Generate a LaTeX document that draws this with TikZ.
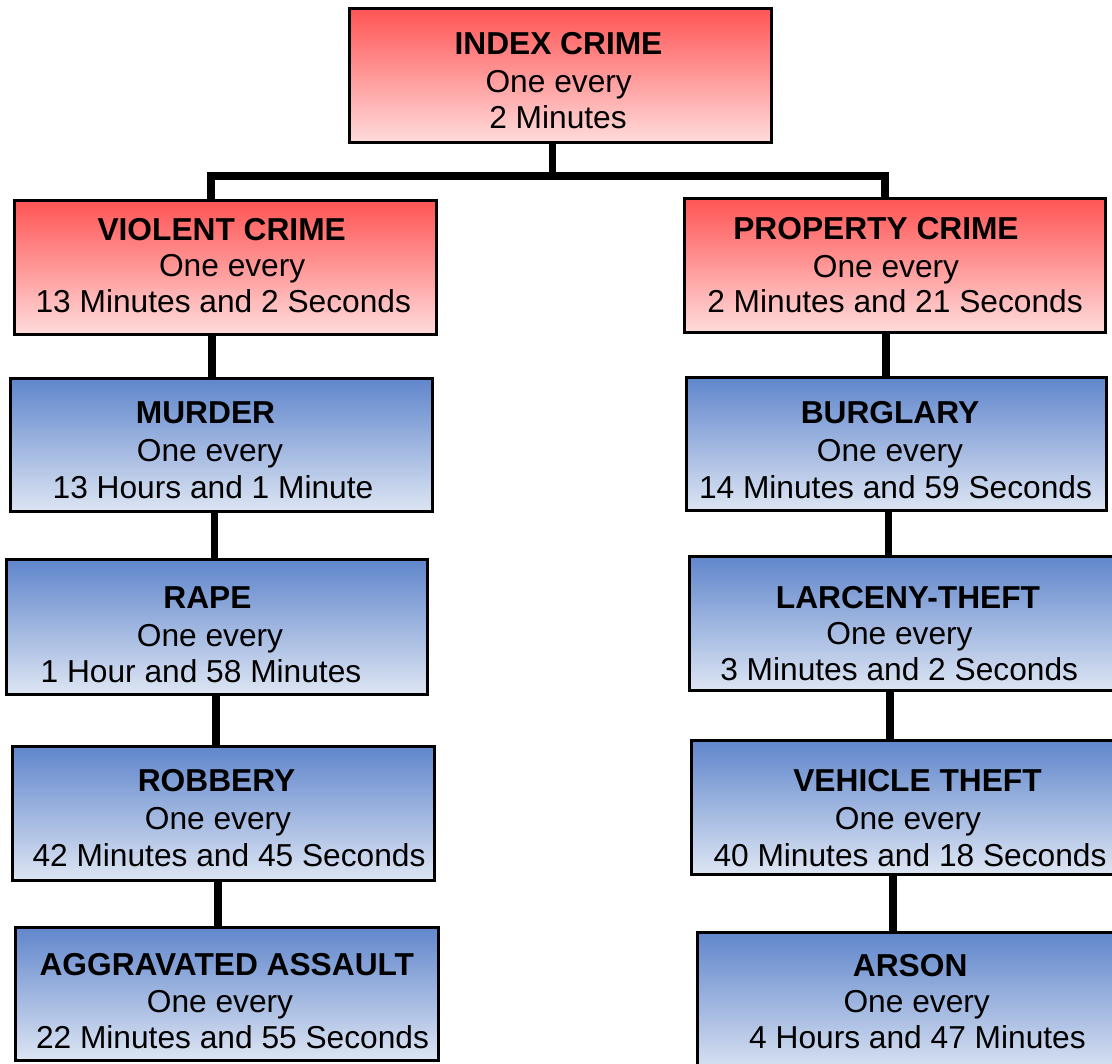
\documentclass[tikz,border=0pt]{standalone}
\usepackage{fontspec}
\setmainfont{Liberation Sans}
\definecolor{redtop}{RGB}{255,84,84}
\definecolor{redbot}{RGB}{255,220,220}
\definecolor{bluetop}{RGB}{96,134,204}
\definecolor{bluebot}{RGB}{221,229,243}
\tikzset{
  crimebox/.style={draw=black, line width=3pt, rectangle, inner sep=0pt},
  redbox/.style={crimebox, top color=redtop, bottom color=redbot},
  bluebox/.style={crimebox, top color=bluetop, bottom color=bluebot},
  txt/.style={anchor=base, inner sep=0pt, font=\fontsize{31.7}{37}\selectfont},
  ttl/.style={txt, font=\fontsize{31.7}{37}\selectfont\bfseries},
  conn/.style={draw=black, line width=7.5pt}
}
\begin{document}
\begin{tikzpicture}[x=1pt,y=-1pt]
\clip (0,0) rectangle (1112,1064);
\fill[white] (0,0) rectangle (1112,1064);
% boxes
\node[redbox, minimum width=422, minimum height=134] (idx) at (560.5,75.5) {};
\node[redbox, minimum width=422, minimum height=134.5] (vio) at (225,267.75) {};
\node[redbox, minimum width=421, minimum height=134] (pro) at (895,265.5) {};
\node[bluebox, minimum width=422, minimum height=133] (mur) at (221,445.5) {};
\node[bluebox, minimum width=420, minimum height=133] (bur) at (896.5,444) {};
\node[bluebox, minimum width=421, minimum height=134] (rap) at (217,627) {};
\node[bluebox, minimum width=435.2, minimum height=134.3] (lar) at (907.4,623.65) {};
\node[bluebox, minimum width=421.5, minimum height=134] (rob) at (223.25,813.5) {};
\node[bluebox, minimum width=433.5, minimum height=133.5] (veh) at (908.25,807.25) {};
\node[bluebox, minimum width=423, minimum height=133.5] (agg) at (227,993.75) {};
\node[bluebox, minimum width=427.5, minimum height=142.5] (ars) at (911.25,1003.75) {};
% connectors
\coordinate (jM) at (552.7,176);
\coordinate (jL) at (211,176);
\coordinate (jR) at (885,176);
\draw[conn] (idx.south -| jM) -- (jM);
\draw[conn] (vio.north -| jL) -- (jL) -- (jR) -- (pro.north -| jR);
\draw[conn] ([xshift=-13]vio.south) -- ([xshift=-9]mur.north);
\draw[conn] ([xshift=-6.5]mur.south) -- ([xshift=-2.5]rap.north);
\draw[conn] ([xshift=-1]rap.south) -- ([xshift=-7.25]rob.north);
\draw[conn] ([xshift=-5.25]rob.south) -- ([xshift=-9]agg.north);
\draw[conn] ([xshift=-9]pro.south) -- ([xshift=-10.5]bur.north);
\draw[conn] ([xshift=-7.8]bur.south) -- ([xshift=-18.7]lar.north);
\draw[conn] ([xshift=-17.4]lar.south) -- ([xshift=-18.25]veh.north);
\draw[conn] ([xshift=-15.25]veh.south) -- ([xshift=-18.25]ars.north);
% texts
\node[ttl] (idx1) at (558.5,55) {INDEX CRIME};
\node[txt] (idx2) at (558.7,93) {One every};
\node[txt] (idx3) at (558,129) {2 Minutes};
\node[ttl] (vio1) at (221.7,241) {VIOLENT CRIME};
\node[txt] (vio2) at (232.2,277) {One every};
\node[txt] (vio3) at (223.3,313) {13 Minutes and 2 Seconds};
\node[ttl] (pro1) at (876,240) {PROPERTY CRIME};
\node[txt] (pro2) at (886,278) {One every};
\node[txt] (pro3) at (895,313) {2 Minutes and 21 Seconds};
\node[ttl] (mur1) at (205.5,424) {MURDER};
\node[txt] (mur2) at (210,462) {One every};
\node[txt] (mur3) at (213,499) {13 Hours and 1 Minute};
\node[ttl] (bur1) at (890,424) {BURGLARY};
\node[txt] (bur2) at (890,462) {One every};
\node[txt] (bur3) at (895.5,499) {14 Minutes and 59 Seconds};
\node[ttl] (rap1) at (207.5,608) {RAPE};
\node[txt] (rap2) at (210,646) {One every};
\node[txt] (rap3) at (201,682) {1 Hour and 58 Minutes};
\node[ttl] (lar1) at (908,608) {LARCENY-THEFT};
\node[txt] (lar2) at (899.5,644) {One every};
\node[txt] (lar3) at (899.2,680) {3 Minutes and 2 Seconds};
\node[ttl] (rob1) at (216.5,791) {ROBBERY};
\node[txt] (rob2) at (218,829) {One every};
\node[txt] (rob3) at (229,866) {42 Minutes and 45 Seconds};
\node[ttl] (veh1) at (917.5,791) {VEHICLE THEFT};
\node[txt] (veh2) at (908,829) {One every};
\node[txt] (veh3) at (910,866) {40 Minutes and 18 Seconds};
\node[ttl] (agg1) at (226.8,975) {AGGRAVATED ASSAULT};
\node[txt] (agg2) at (220,1012) {One every};
\node[txt] (agg3) at (232.5,1048) {22 Minutes and 55 Seconds};
\node[ttl] (ars1) at (910.2,976) {ARSON};
\node[txt] (ars2) at (916.7,1012) {One every};
\node[txt] (ars3) at (917.5,1048) {4 Hours and 47 Minutes};
\end{tikzpicture}
\end{document}
